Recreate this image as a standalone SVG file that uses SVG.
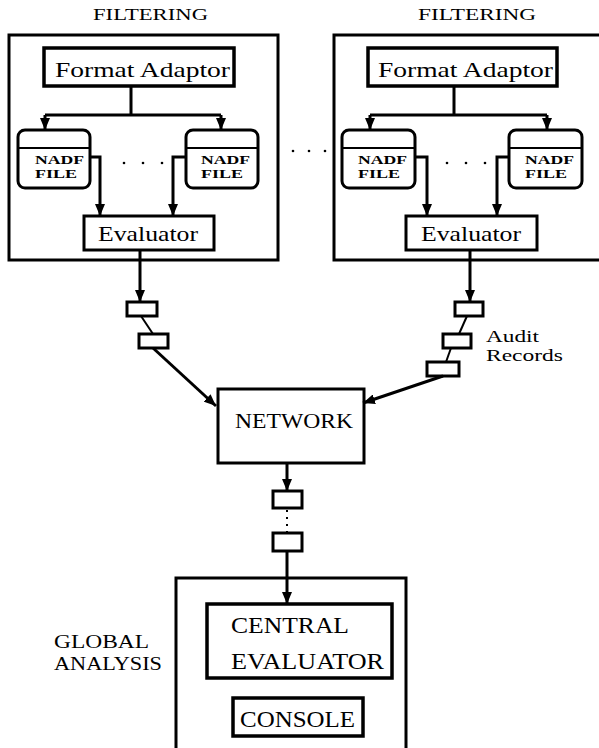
<svg xmlns="http://www.w3.org/2000/svg" width="599" height="748" viewBox="0 0 599 748">
<style>
.box{fill:#fff;stroke:#000;stroke-width:3.5}
.thin{fill:#fff;stroke:#000;stroke-width:3}
.ln{fill:none;stroke:#000;stroke-width:3}
.ln2{fill:none;stroke:#000;stroke-width:2}
text{font-family:"Liberation Serif","DejaVu Serif",serif;fill:#000}
.t20{font-size:21px}
.nadf{font-size:12.5px;font-weight:bold}
.dot{fill:#000}
</style>
<defs>
<marker id="ah" markerUnits="userSpaceOnUse" markerWidth="12" markerHeight="10" refX="12" refY="5" orient="auto">
<path d="M0,0 L12,5 L0,10 z" fill="#000"/>
</marker>
</defs>
<rect width="599" height="748" fill="#fff"/>

<g id="filter-left">
<text x="93" y="20" font-size="17" textLength="115" lengthAdjust="spacingAndGlyphs">FILTERING</text>
<rect class="thin" x="9" y="35" width="269" height="225"/>
</g>
<g id="filter-right">
<text x="418" y="20" font-size="17" textLength="118" lengthAdjust="spacingAndGlyphs">FILTERING</text>
<rect class="thin" x="334" y="35" width="270" height="225"/>
</g>

<g id="fa-left">
<rect class="box" x="44" y="48" width="190" height="38"/>
<text class="t20" x="55" y="77" textLength="175" lengthAdjust="spacingAndGlyphs">Format Adaptor</text>
</g>
<g id="fa-right">
<rect class="box" x="368" y="48" width="189" height="38"/>
<text class="t20" x="378" y="77" textLength="175" lengthAdjust="spacingAndGlyphs">Format Adaptor</text>
</g>

<g id="nadf-l1">
<rect class="thin" x="18" y="130" width="72" height="58" rx="7"/>
<line class="ln2" x1="18" y1="148" x2="90" y2="148"/>
<text class="nadf" x="35" y="164" textLength="49" lengthAdjust="spacingAndGlyphs">NADF</text>
<text class="nadf" x="35" y="178" textLength="42" lengthAdjust="spacingAndGlyphs">FILE</text>
</g>
<g id="nadf-l2">
<rect class="thin" x="186" y="130" width="72" height="58" rx="7"/>
<line class="ln2" x1="186" y1="148" x2="258" y2="148"/>
<text class="nadf" x="201" y="164" textLength="49" lengthAdjust="spacingAndGlyphs">NADF</text>
<text class="nadf" x="201" y="178" textLength="42" lengthAdjust="spacingAndGlyphs">FILE</text>
</g>
<g id="nadf-r1">
<rect class="thin" x="342" y="130" width="73" height="58" rx="7"/>
<line class="ln2" x1="342" y1="148" x2="415" y2="148"/>
<text class="nadf" x="358" y="164" textLength="49" lengthAdjust="spacingAndGlyphs">NADF</text>
<text class="nadf" x="358" y="178" textLength="42" lengthAdjust="spacingAndGlyphs">FILE</text>
</g>
<g id="nadf-r2">
<rect class="thin" x="509" y="130" width="73" height="58" rx="7"/>
<line class="ln2" x1="509" y1="148" x2="582" y2="148"/>
<text class="nadf" x="525" y="164" textLength="49" lengthAdjust="spacingAndGlyphs">NADF</text>
<text class="nadf" x="525" y="178" textLength="42" lengthAdjust="spacingAndGlyphs">FILE</text>
</g>

<g id="eval-left">
<rect class="thin" x="84" y="216" width="130" height="34"/>
<text class="t20" x="98" y="241" textLength="100" lengthAdjust="spacingAndGlyphs">Evaluator</text>
</g>
<g id="eval-right">
<rect class="thin" x="406" y="216" width="131" height="34"/>
<text class="t20" x="421" y="241" textLength="100" lengthAdjust="spacingAndGlyphs">Evaluator</text>
</g>

<g id="queues">
<rect class="thin" x="127" y="302" width="30" height="14"/>
<rect class="thin" x="139" y="334" width="29" height="14"/>
<rect class="thin" x="455" y="302" width="28" height="14"/>
<rect class="thin" x="443" y="334" width="28" height="14"/>
<rect class="thin" x="427" y="362" width="32" height="14"/>
<rect class="thin" x="273" y="491" width="29" height="17"/>
<rect class="thin" x="273" y="533" width="29" height="18"/>
</g>

<g id="audit-label">
<text x="486" y="342" font-size="16" textLength="53" lengthAdjust="spacingAndGlyphs">Audit</text>
<text x="486" y="361" font-size="16" textLength="77" lengthAdjust="spacingAndGlyphs">Records</text>
</g>

<g id="network">
<rect class="thin" x="218" y="389" width="146" height="74"/>
<text class="t20" x="235" y="428" textLength="118" lengthAdjust="spacingAndGlyphs">NETWORK</text>
</g>

<g id="global">
<text x="54" y="648" font-size="19" textLength="95" lengthAdjust="spacingAndGlyphs">GLOBAL</text>
<text x="54" y="670" font-size="19" textLength="108" lengthAdjust="spacingAndGlyphs">ANALYSIS</text>
<rect class="thin" x="176" y="578" width="230" height="180"/>
</g>
<g id="central">
<rect class="box" x="207" y="604" width="185" height="74"/>
<text x="231" y="633" font-size="24" textLength="118" lengthAdjust="spacingAndGlyphs">CENTRAL</text>
<text x="231" y="669" font-size="24" textLength="153" lengthAdjust="spacingAndGlyphs">EVALUATOR</text>
</g>
<g id="console">
<rect class="box" x="233" y="698" width="130" height="38"/>
<text x="240" y="727" font-size="24" textLength="115" lengthAdjust="spacingAndGlyphs">CONSOLE</text>
</g>

<g id="dots">
<circle class="dot" cx="293" cy="151" r="1.3"/>
<circle class="dot" cx="309" cy="151" r="1.3"/>
<circle class="dot" cx="325" cy="151" r="1.3"/>
<circle class="dot" cx="124" cy="163" r="1.3"/>
<circle class="dot" cx="143" cy="163" r="1.3"/>
<circle class="dot" cx="162" cy="163" r="1.3"/>
<circle class="dot" cx="447" cy="163" r="1.3"/>
<circle class="dot" cx="466" cy="163" r="1.3"/>
<circle class="dot" cx="485" cy="163" r="1.3"/>
</g>

<g id="connectors">
<path class="ln" d="M131,86 V115 M45,115 H221"/>
<path class="ln" d="M45,115 V130" marker-end="url(#ah)"/>
<path class="ln" d="M221,115 V130" marker-end="url(#ah)"/>
<path class="ln" d="M90,157 H100 V216" marker-end="url(#ah)"/>
<path class="ln" d="M186,157 H173 V216" marker-end="url(#ah)"/>
<path class="ln" d="M454,86 V115 M370,115 H547"/>
<path class="ln" d="M370,115 V130" marker-end="url(#ah)"/>
<path class="ln" d="M547,115 V130" marker-end="url(#ah)"/>
<path class="ln" d="M415,157 H427 V216" marker-end="url(#ah)"/>
<path class="ln" d="M509,157 H497 V216" marker-end="url(#ah)"/>
<path class="ln" d="M140,250 V302" marker-end="url(#ah)"/>
<path class="ln2" d="M141,316 L153,334"/>
<path class="ln" d="M153,348 L216,406" marker-end="url(#ah)"/>
<path class="ln" d="M470,250 V302" marker-end="url(#ah)"/>
<path class="ln2" d="M467,316 L459,334"/>
<path class="ln2" d="M451,348 L446,362"/>
<path class="ln" d="M443,376 L363,403" marker-end="url(#ah)"/>
<path class="ln" d="M287,463 V491" marker-end="url(#ah)"/>
<path class="ln2" d="M287,510 V533" stroke-dasharray="2,5"/>
<path class="ln" d="M287,551 V604" marker-end="url(#ah)"/>
</g>
</svg>
